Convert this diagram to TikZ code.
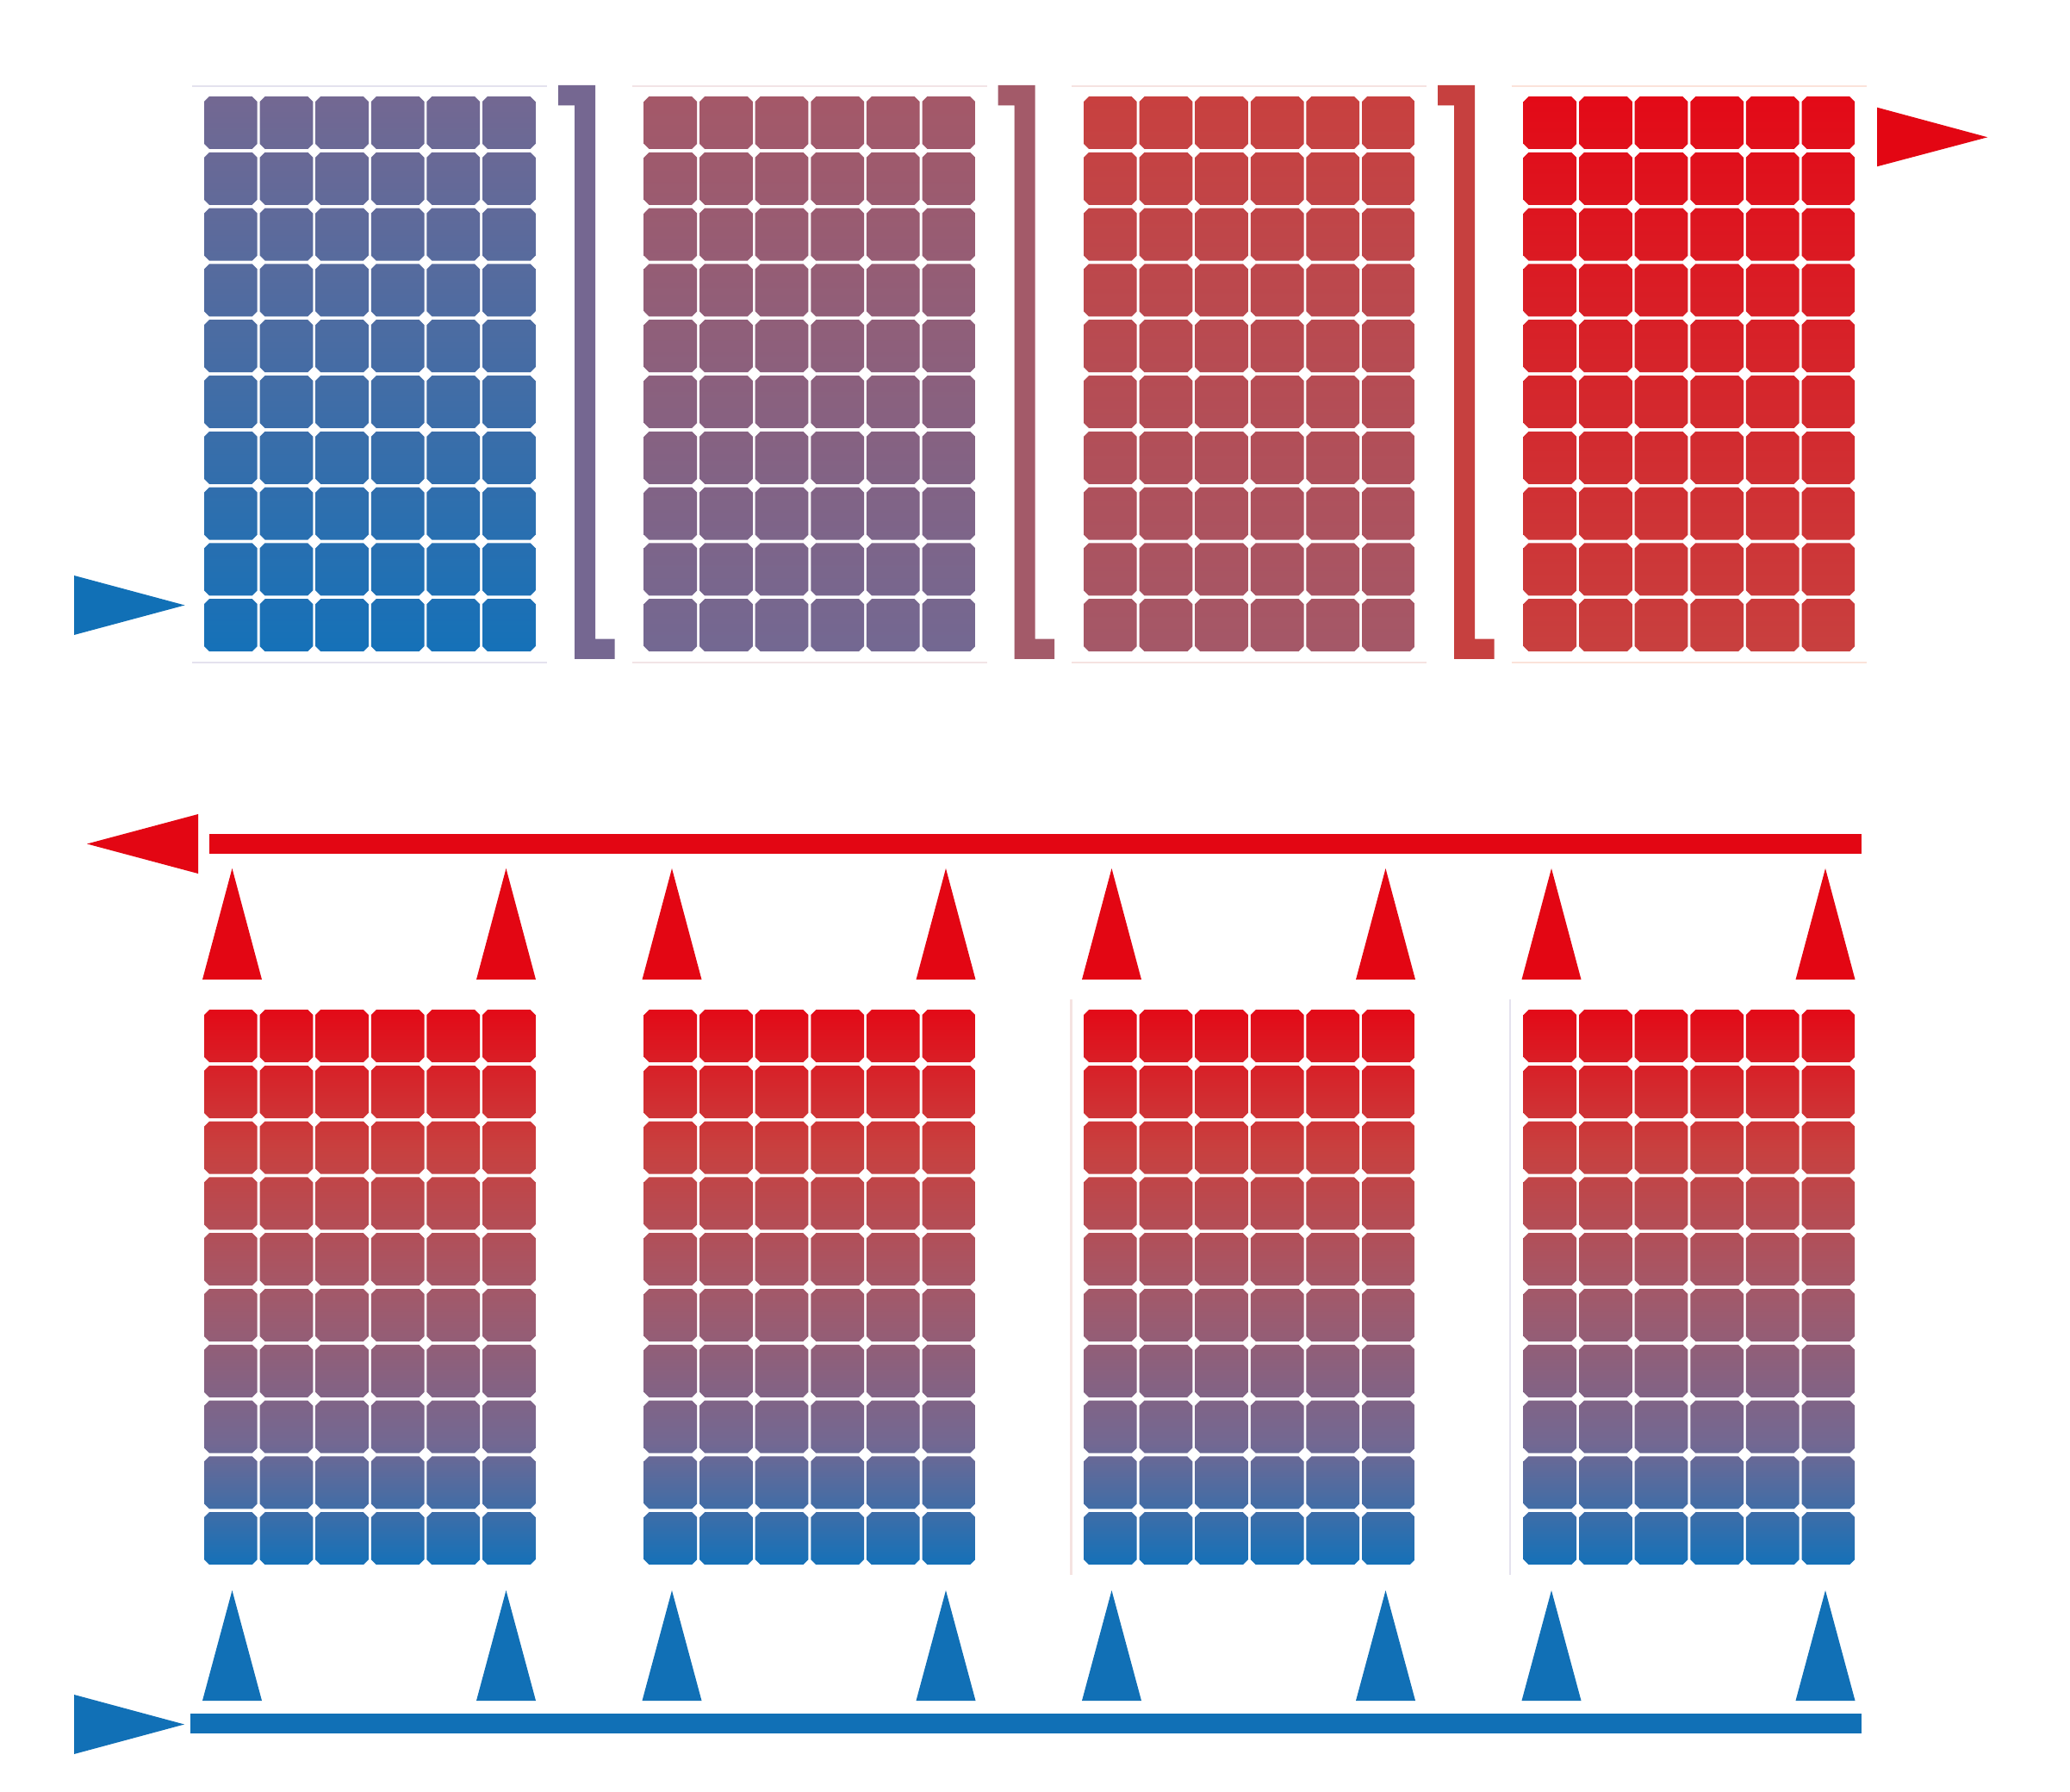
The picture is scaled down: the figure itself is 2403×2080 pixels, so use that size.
\documentclass[tikz,border=0pt]{standalone}
\definecolor{cblue}{HTML}{1571B8}
\definecolor{cpurple}{HTML}{736892}
\definecolor{crose}{HTML}{A45868}
\definecolor{cred}{HTML}{C8403F}
\definecolor{cbright}{HTML}{E30A17}
\definecolor{arrblue}{HTML}{1170B6}
\definecolor{arrred}{HTML}{E30613}
\definecolor{conA}{HTML}{756791}
\definecolor{conB}{HTML}{A35A69}
\definecolor{conC}{HTML}{C6403F}
\definecolor{frameA}{HTML}{E4E2EE}
\definecolor{frameB}{HTML}{F2E4E6}
\definecolor{frameC}{HTML}{F5E3E1}
\definecolor{frameD}{HTML}{FBE3DA}
\pgfdeclareverticalshading{gA}{100bp}{color(0bp)=(cblue); color(25bp)=(cblue); color(75bp)=(cpurple); color(100bp)=(cpurple)}
\pgfdeclareverticalshading{gB}{100bp}{color(0bp)=(cpurple); color(25bp)=(cpurple); color(75bp)=(crose); color(100bp)=(crose)}
\pgfdeclareverticalshading{gC}{100bp}{color(0bp)=(crose); color(25bp)=(crose); color(75bp)=(cred); color(100bp)=(cred)}
\pgfdeclareverticalshading{gD}{100bp}{color(0bp)=(cred); color(25bp)=(cred); color(75bp)=(cbright); color(100bp)=(cbright)}
\pgfdeclareverticalshading{gL}{100bp}{color(0bp)=(cblue); color(25bp)=(cblue); color(36bp)=(cpurple); color(50bp)=(crose); color(62.5bp)=(cred); color(75bp)=(cbright); color(100bp)=(cbright)}
\newcommand\cellgrid[3]{%
  \begin{scope}
    \clip \foreach \i in {0,...,5}{ \foreach \j in {0,...,9}{
      ({#1+\i*64.6+6},{#2+\j*64.8}) -- ++(49.7,0) -- ++(6,6) -- ++(0,49) -- ++(-6,6)
      -- ++(-49.7,0) -- ++(-6,-6) -- ++(0,-49) -- cycle } };
    \shade[shading=#3] (#1,#2) rectangle ({#1+384.7},{#2+644.2});
  \end{scope}}
\tikzset{
  framel/.style={line width=0.6pt},
  bluefill/.style={fill=arrblue},
  redfill/.style={fill=arrred}
}
\begin{document}
\begin{tikzpicture}[x=0.01cm,y=-0.01cm]
\useasboundingbox (0,0) rectangle (2403,2080);
\fill[white] (0,0) rectangle (2403,2080);

% faint panel frames (top row)
\foreach \px/\fc in {237/frameA,747.5/frameB,1258/frameC,1768.5/frameD}{
  \draw[framel,\fc] ({\px-14},100) -- ({\px+398},100);
  \draw[framel,\fc] ({\px-14},769) -- ({\px+398},769);
}
% faint frames (bottom row, right two)
\draw[framel,frameC] (1243.5,1160) -- (1243.5,1828);
\draw[framel,frameA] (1753,1160) -- (1753,1828);

% top row collectors (series)
\cellgrid{237}{112}{gA}
\cellgrid{747.5}{112}{gB}
\cellgrid{1258}{112}{gC}
\cellgrid{1768.5}{112}{gD}

% series connectors
\foreach \k/\cc in {0/conA,1/conB,2/conC}{
  \fill[\cc] ({648+\k*510.5},99) -- ({691+\k*510.5},99) -- ({691+\k*510.5},741.7)
    -- ({713.5+\k*510.5},741.7) -- ({713.5+\k*510.5},765) -- ({667+\k*510.5},765)
    -- ({667+\k*510.5},122.3) -- ({648+\k*510.5},122.3) -- cycle;
}

% inlet / outlet of series row
\coordinate (inTip) at (214.5,702.5);
\coordinate (outTip) at (2307.3,159.3);
\fill[bluefill] (86,668) -- (inTip) -- (86,737) -- cycle;
\fill[redfill] (2179,124.7) -- (outTip) -- (2179,193.3) -- cycle;

% bottom row collectors (parallel)
\cellgrid{237}{1172}{gL}
\cellgrid{747.5}{1172}{gL}
\cellgrid{1258}{1172}{gL}
\cellgrid{1768.5}{1172}{gL}

% hot manifold
\fill[redfill] (243,968) rectangle (2161,991);
\coordinate (hotTip) at (101,979.5);
\fill[redfill] (230,945) -- (hotTip) -- (230,1014) -- cycle;

% cold manifold
\fill[bluefill] (221,1989) rectangle (2161,2012);
\coordinate (coldTip) at (214,2001.5);
\fill[bluefill] (86,1967) -- (coldTip) -- (86,2036) -- cycle;

% small flow triangles
\foreach \px in {237,747.5,1258,1768.5}{
  \foreach \dx in {32.5,350.5}{
    \fill[redfill] ({\px+\dx-34.5},1137) -- ({\px+\dx},1008) -- ({\px+\dx+34.5},1137) -- cycle;
    \fill[bluefill] ({\px+\dx-34.5},1974) -- ({\px+\dx},1846) -- ({\px+\dx+34.5},1974) -- cycle;
  }
}
\end{tikzpicture}
\end{document}
